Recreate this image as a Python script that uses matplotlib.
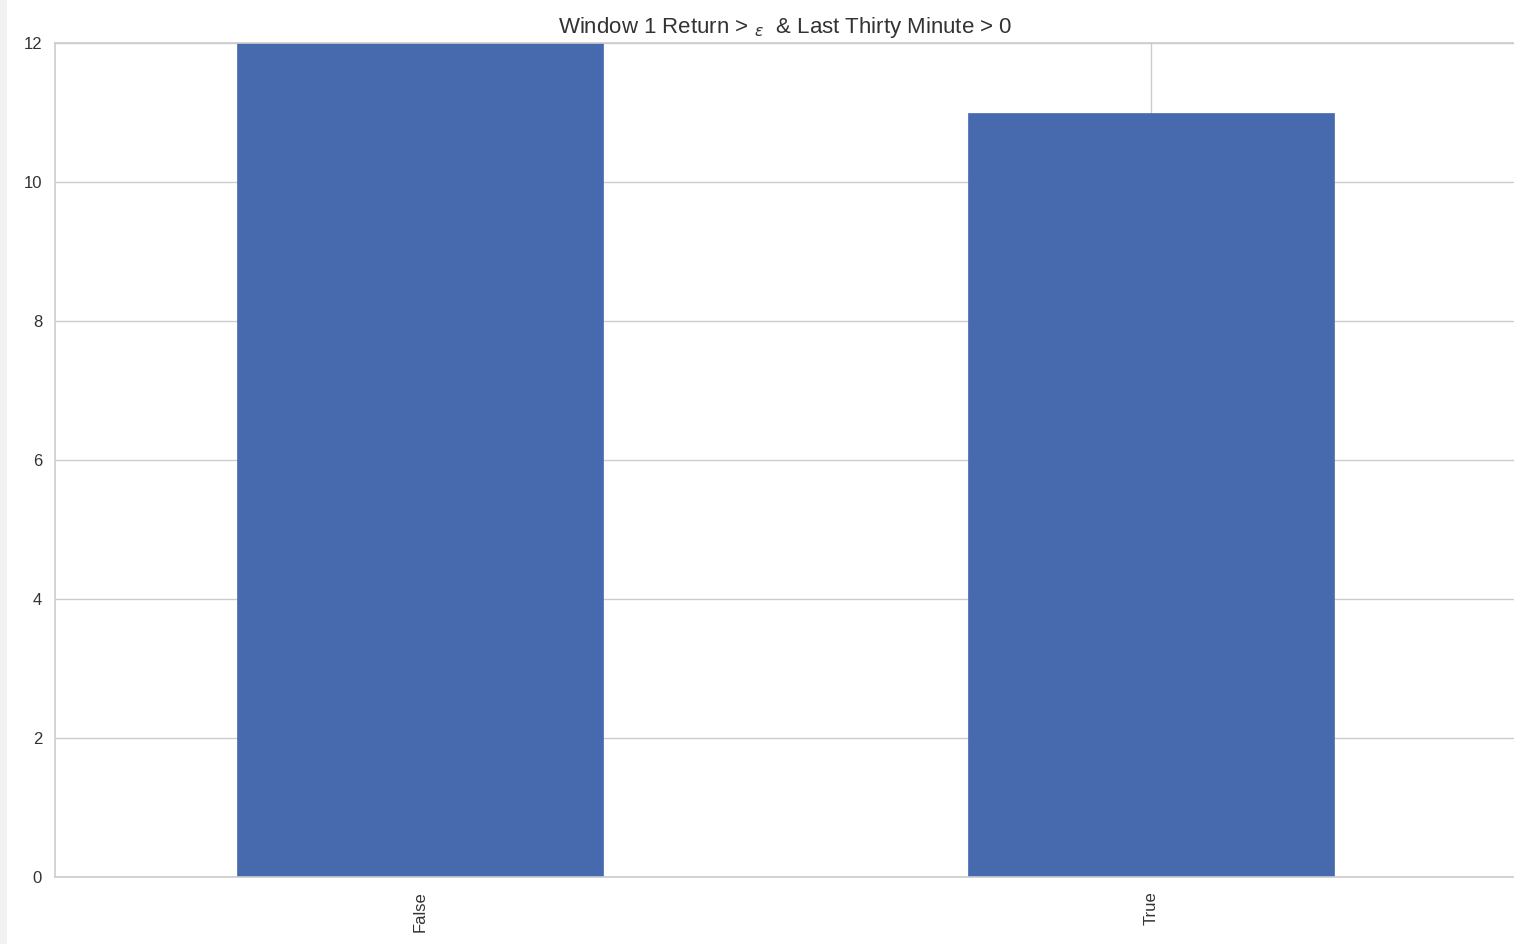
import matplotlib
matplotlib.use("Agg")
import matplotlib.pyplot as plt
from matplotlib.patches import Rectangle

categories = ["False", "True"]
counts = [12, 11]
yticks = [0, 2, 4, 6, 8, 10, 12]
title = r"Window 1 Return > $_{\epsilon}$  & Last Thirty Minute > 0"

plt.rcParams['font.family'] = ['Liberation Sans', 'DejaVu Sans']

W, H = 1514, 944
fig = plt.figure(figsize=(W / 100, H / 100), dpi=100)
fig.patches.append(Rectangle((0, 0), 7 / W, 1, transform=fig.transFigure,
                             facecolor="#f2f2f2", edgecolor="none", zorder=0))

ax = fig.add_axes([54.5 / W, 67 / H, 1462 / W, 834 / H])
x = list(range(len(categories)))
ax.bar(x, counts, width=0.5, color="#4769ae", edgecolor="#4769ae", linewidth=0.5, zorder=2)
ax.set_xlim(-0.5, 1.5)
ax.set_ylim(0, 12)
ax.set_xticks(x)
ax.set_xticklabels(categories, rotation=90)
ax.set_yticks(yticks)
ax.set_yticklabels([str(v) for v in yticks])
ax.grid(True, color="#cccccc", linewidth=1, zorder=0)
ax.set_axisbelow(True)
for s in ax.spines.values():
    s.set_color("#cccccc")
    s.set_linewidth(1.2)
ax.tick_params(length=0, labelsize=12, colors="#333333")
ax.tick_params(axis='y', pad=9)
ax.tick_params(axis='x', pad=10)
ax.set_title(title, fontsize=16, color="#333333", pad=7)

fig.savefig("out.png", dpi=100)
